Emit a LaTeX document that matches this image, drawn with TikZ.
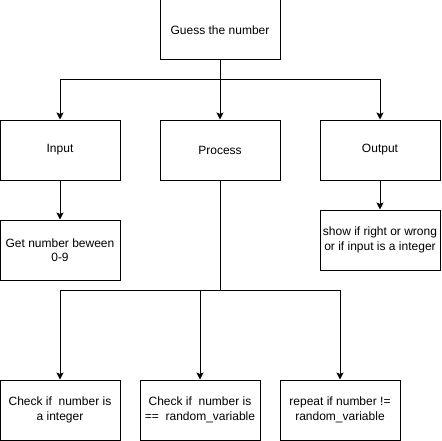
\documentclass[tikz,border=0pt]{standalone}
\usepackage{fontspec}
\setmainfont{Liberation Sans}
\usetikzlibrary{arrows.meta}

\begin{document}
\begin{tikzpicture}[x=1pt, y=-1pt, line width=1pt,
    font=\fontsize{12}{14.5}\selectfont,
    box/.style={draw, rectangle, minimum width=120pt, minimum height=60pt, inner sep=0pt, align=center},
    arr/.style={-{Stealth[width=7pt,length=7pt,inset=1.5pt]}}]
  \useasboundingbox (0,0) rectangle (441,441);

  \node[box] (guess)   at (220,30)  {Guess the number};
  \node[box] (input)   at (60,150)  {Input};
  \node[box] (process) at (220,150) {Process};
  \node[box] (output)  at (380,150) {Output};
  \node[box] (getnum)  at (60,250)  {Get number beween\\0-9};
  \node[box] (show)    at (380,240) {show if right or wrong\\or if input is a integer};
  \node[box] (isint)   at (60,410)  {Check if\ \ number is\\a integer};
  \node[box] (isequal) at (200,410) {Check if\ \ number is\\==\ \ random\_variable};
  \node[box] (repeat)  at (340,410) {repeat if number !=\\random\_variable};

  \coordinate (topsplit) at (220,80);
  \coordinate (procsplit) at (220,290);

  \draw[arr] (guess.south) -- (process.north);
  \draw[arr] (topsplit) -| (input.north);
  \draw[arr] (topsplit) -| (output.north);

  \draw[arr] (input.south) -- (getnum.north);
  \draw[arr] (output.south) -- (show.north);

  \draw (process.south) -- (procsplit);
  \draw[arr] (procsplit) -| (isint.north);
  \draw[arr] (procsplit) -| (isequal.north);
  \draw[arr] (procsplit) -| (repeat.north);
\end{tikzpicture}
\end{document}
